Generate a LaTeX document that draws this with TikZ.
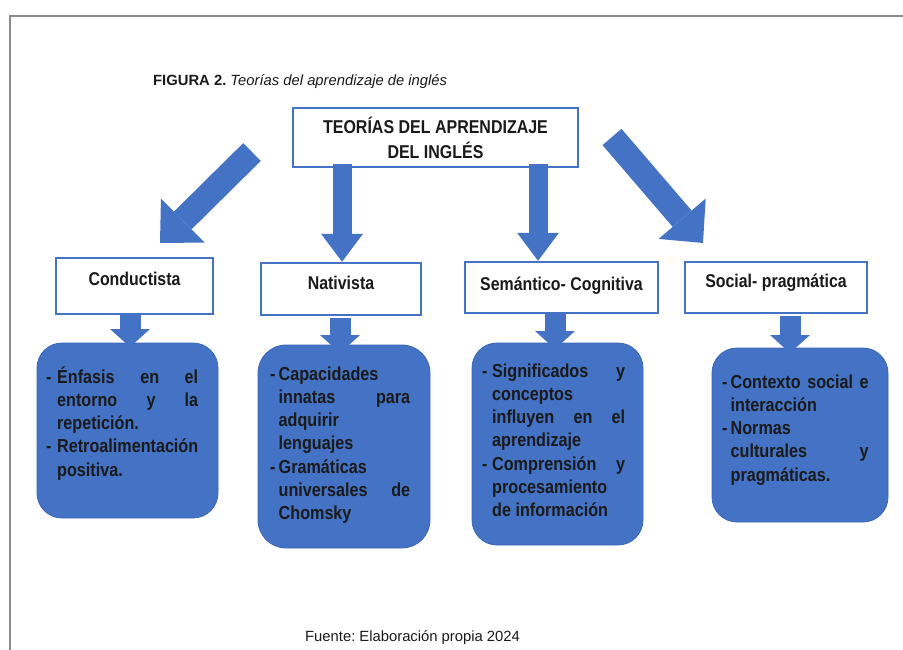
\documentclass[tikz,border=0pt]{standalone}
\usepackage{fontspec}
\setmainfont{Liberation Sans}
\newfontfamily\narrowsans{Liberation Sans}[FakeStretch=0.86]
\usetikzlibrary{arrows.meta}
\definecolor{boxblue}{HTML}{4472C4}
\definecolor{edgeblue}{HTML}{3A66B8}
\definecolor{framegray}{HTML}{8C8C8C}
\definecolor{ink}{HTML}{1A1A1A}
\newcommand\itemline[4]{\makebox[#1][l]{-}\makebox[#2][#3]{\spaceskip=0pt\xspaceskip=0pt\relax #4}}
\newcommand\contline[4]{\hspace*{#1}\makebox[#2][#3]{\spaceskip=0pt\xspaceskip=0pt\relax #4}}
\begin{document}
\frenchspacing
\begin{tikzpicture}[x=1pt,y=-1pt,
  diagarrow/.style={draw=boxblue, line width=25pt,
    -{Triangle[width=62pt 0 1,length=32pt 0 1,line width=0pt 0 0]}},
  downarrow/.style={draw=boxblue, line width=19pt,
    -{Triangle[width=42pt 0 1,length=28pt 0 1,line width=0pt 0 0]}},
  smallarrow/.style={draw=boxblue, line width=21pt,
    -{Triangle[width=40pt 0 1,length=18pt 0 1,line width=0pt 0 0]}},
  titlebox/.style={draw=boxblue, line width=2.5pt, fill=white, inner sep=0pt,
    align=center, text=ink, font=\narrowsans\bfseries\fontsize{18.6}{25}\selectfont},
  labelbox/.style={draw=boxblue, line width=2.5pt, fill=white, inner sep=0pt,
    anchor=base, text=ink, font=\narrowsans\bfseries\fontsize{18.5}{21}\selectfont},
  bodybox/.style={fill=boxblue, draw=edgeblue, line width=0.8pt,
    rounded corners=25pt, inner sep=0pt},
  bodytext/.style={anchor=base west, inner sep=0pt, align=left, text=ink,
    font=\narrowsans\bfseries\fontsize{18.8}{23.3}\selectfont},
  plaintext/.style={anchor=base west, inner sep=0pt, text=ink,
    font=\fontsize{14.8}{18}\selectfont}]

\useasboundingbox (0,0) rectangle (903,650);
\fill[white] (0,0) rectangle (903,650);
\draw[framegray, line width=2pt] (903,16) -- (10,16) -- (10,650);

\node[plaintext] (fig) at (153,86) {\textbf{FIGURA 2.} \textit{Teorías del aprendizaje de inglés}};
\node[plaintext] (src) at (305,641) {Fuente: Elaboración propia 2024};

% title
\node[titlebox, minimum width=285pt, minimum height=59pt] (title) at (435.5,137.5)
  {TEORÍAS DEL APRENDIZAJE\\DEL INGLÉS};

% label boxes
\node[labelbox, minimum width=157pt, text height=27pt, text depth=29pt] (cond) at (134.5,285) {Conductista};
\node[labelbox, minimum width=160pt, text height=26pt, text depth=26pt] (nat) at (341,289) {Nativista};
\node[labelbox, minimum width=193pt, text height=28pt, text depth=23pt] (sem) at (561.5,290) {Semántico- Cognitiva};
\node[labelbox, minimum width=182pt, text height=25pt, text depth=26pt] (soc) at (776,287) {Social- pragmática};

% body boxes
\node[bodybox, minimum width=181pt, minimum height=175pt] (condb) at (127.5,430.5) {};
\node[bodybox, minimum width=172pt, minimum height=203pt, rounded corners=28pt] (natb) at (344,446.5) {};
\node[bodybox, minimum width=171pt, minimum height=202pt] (semb) at (557.5,444) {};
\node[bodybox, minimum width=176pt, minimum height=174pt] (socb) at (800,435) {};

% big arrows
\coordinate (d1s) at (252,152);
\coordinate (d1e) at (160,243);
\coordinate (d4s) at (612,137);
\coordinate (d4e) at (703,243);
\coordinate (v2s) at (342,164);
\coordinate (v3s) at (538,164);
\draw[diagarrow] (d1s) -- (d1e);
\draw[diagarrow] (d4s) -- (d4e);
\draw[downarrow] (v2s) -- (v2s |- nat.north);
\draw[downarrow] (v3s) -- (v3s |- sem.north);

% small arrows
\coordinate (s1e) at (130,347);
\coordinate (s2e) at (340,353);
\coordinate (s3e) at (555,349);
\coordinate (s4e) at (790,353);
\draw[smallarrow] (s1e |- cond.south) -- (s1e);
\draw[smallarrow] ([yshift=-2pt]s2e |- nat.south) -- (s2e);
\draw[smallarrow] (s3e |- sem.south) -- (s3e);
\draw[smallarrow] ([yshift=-2pt]s4e |- soc.south) -- (s4e);

% body texts
\node[bodytext, text width=152pt] (condt) at (46,383) {%
  \itemline{11pt}{141pt}{s}{Énfasis en el}\\
  \contline{11pt}{141pt}{s}{entorno y la}\\
  \contline{11pt}{141pt}{l}{repetición.}\\
  \itemline{11pt}{141pt}{l}{Retroalimentación}\\
  \contline{11pt}{141pt}{l}{positiva.}};
\node[bodytext, text width=140pt] (natt) at (270,380) {%
  \itemline{8.5pt}{131.5pt}{l}{Capacidades}\\
  \contline{8.5pt}{131.5pt}{s}{innatas para}\\
  \contline{8.5pt}{131.5pt}{l}{adquirir}\\
  \contline{8.5pt}{131.5pt}{l}{lenguajes}\\
  \itemline{8.5pt}{131.5pt}{l}{Gramáticas}\\
  \contline{8.5pt}{131.5pt}{s}{universales de}\\
  \contline{8.5pt}{131.5pt}{l}{Chomsky}};
\node[bodytext, text width=143pt] (semt) at (482,377) {%
  \itemline{10pt}{133pt}{s}{Significados y}\\
  \contline{10pt}{133pt}{l}{conceptos}\\
  \contline{10pt}{133pt}{s}{influyen en el}\\
  \contline{10pt}{133pt}{l}{aprendizaje}\\
  \itemline{10pt}{133pt}{s}{Comprensión y}\\
  \contline{10pt}{133pt}{l}{procesamiento}\\
  \contline{10pt}{133pt}{l}{de información}};
\node[bodytext, text width=146.5pt] (soct) at (722,388) {%
  \itemline{8.5pt}{138pt}{s}{Contexto social e}\\
  \contline{8.5pt}{138pt}{l}{interacción}\\
  \itemline{8.5pt}{138pt}{l}{Normas}\\
  \contline{8.5pt}{138pt}{s}{culturales y}\\
  \contline{8.5pt}{138pt}{l}{pragmáticas.}};
\end{tikzpicture}
\end{document}
